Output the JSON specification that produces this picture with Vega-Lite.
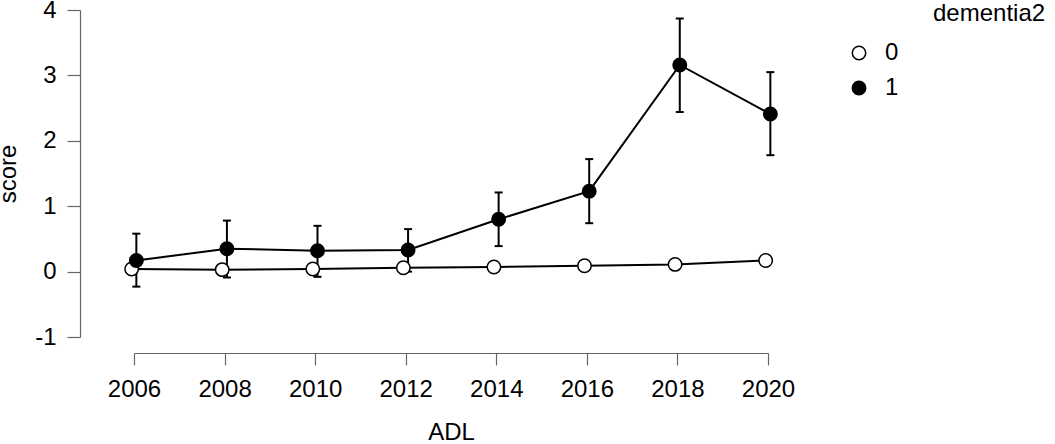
{
  "$schema": "https://vega.github.io/schema/vega-lite/v6.json",
  "autosize": {"type": "none"},
  "padding": {"left": 134, "top": 10, "right": 287, "bottom": 107},
  "width": 634,
  "height": 327,
  "background": "white",
  "data": {
    "values": [
      {"year": 2006, "dementia2": "0", "score": 0.04, "lower": 0.02, "upper": 0.06},
      {"year": 2008, "dementia2": "0", "score": 0.03, "lower": 0.01, "upper": 0.05},
      {"year": 2010, "dementia2": "0", "score": 0.04, "lower": 0.02, "upper": 0.06},
      {"year": 2012, "dementia2": "0", "score": 0.06, "lower": 0.04, "upper": 0.08},
      {"year": 2014, "dementia2": "0", "score": 0.07, "lower": 0.05, "upper": 0.09},
      {"year": 2016, "dementia2": "0", "score": 0.09, "lower": 0.07, "upper": 0.11},
      {"year": 2018, "dementia2": "0", "score": 0.11, "lower": 0.09, "upper": 0.13},
      {"year": 2020, "dementia2": "0", "score": 0.17, "lower": 0.14, "upper": 0.2},
      {"year": 2006, "dementia2": "1", "score": 0.17, "lower": -0.23, "upper": 0.58},
      {"year": 2008, "dementia2": "1", "score": 0.35, "lower": -0.09, "upper": 0.78},
      {"year": 2010, "dementia2": "1", "score": 0.32, "lower": -0.08, "upper": 0.7},
      {"year": 2012, "dementia2": "1", "score": 0.33, "lower": 0.0, "upper": 0.65},
      {"year": 2014, "dementia2": "1", "score": 0.8, "lower": 0.39, "upper": 1.21},
      {"year": 2016, "dementia2": "1", "score": 1.23, "lower": 0.74, "upper": 1.72},
      {"year": 2018, "dementia2": "1", "score": 3.16, "lower": 2.44, "upper": 3.87},
      {"year": 2020, "dementia2": "1", "score": 2.41, "lower": 1.78, "upper": 3.05}
    ]
  },
  "encoding": {
    "x": {
      "field": "year",
      "type": "ordinal",
      "title": "ADL",
      "scale": {"type": "point", "padding": 0},
      "axis": {
        "labelAngle": 0,
        "offset": 16,
        "tickSize": 12,
        "labelPadding": 12,
        "titlePadding": 19
      }
    },
    "xOffset": {
      "field": "dementia2",
      "type": "nominal",
      "scale": {"range": [-4.7, 4.7]}
    }
  },
  "layer": [
    {
      "mark": {"type": "line", "color": "black", "strokeWidth": 2},
      "encoding": {
        "y": {
          "field": "score",
          "type": "quantitative",
          "title": "score",
          "scale": {"domain": [-1, 4], "nice": false, "zero": false},
          "axis": {
            "values": [-1, 0, 1, 2, 3, 4],
            "labelExpr": "toString(datum.value)",
            "offset": 54,
            "tickSize": 13,
            "labelPadding": 11,
            "titlePadding": 14
          }
        },
        "detail": {"field": "dementia2", "type": "nominal"}
      }
    },
    {
      "mark": {"type": "rule", "color": "black", "strokeWidth": 2},
      "encoding": {
        "y": {"field": "lower", "type": "quantitative"},
        "y2": {"field": "upper"}
      }
    },
    {
      "mark": {"type": "tick", "color": "black", "orient": "horizontal", "size": 8, "thickness": 2, "opacity": 1},
      "encoding": {
        "y": {"field": "lower", "type": "quantitative"}
      }
    },
    {
      "mark": {"type": "tick", "color": "black", "orient": "horizontal", "size": 8, "thickness": 2, "opacity": 1},
      "encoding": {
        "y": {"field": "upper", "type": "quantitative"}
      }
    },
    {
      "mark": {"type": "point", "shape": "circle", "filled": true, "size": 180, "stroke": "black", "strokeWidth": 1.5, "opacity": 1},
      "encoding": {
        "y": {"field": "score", "type": "quantitative"},
        "fill": {
          "field": "dementia2",
          "type": "nominal",
          "scale": {"domain": ["0", "1"], "range": ["white", "black"]},
          "legend": {
            "title": "dementia2",
            "orient": "none",
            "legendX": 713,
            "legendY": 31,
            "padding": 0,
            "symbolType": "circle",
            "symbolSize": 180,
            "symbolStrokeColor": "black",
            "symbolStrokeWidth": 1.5,
            "labelOffset": 14,
            "rowPadding": 11,
            "titleOrient": "right",
            "titleAngle": 0,
            "titleAnchor": "start",
            "titleBaseline": "line-bottom",
            "titleLineHeight": 54,
            "titlePadding": 35
          }
        }
      }
    }
  ],
  "config": {
    "font": "Liberation Sans",
    "view": {"stroke": null},
    "axis": {
      "grid": false,
      "domainColor": "#666666",
      "tickColor": "#666666",
      "domainWidth": 1.2,
      "tickWidth": 1.2,
      "labelColor": "black",
      "labelFontSize": 24,
      "titleFontSize": 24,
      "titleFontWeight": "normal",
      "titleColor": "black"
    },
    "legend": {
      "labelFontSize": 24,
      "labelColor": "black",
      "titleFontSize": 24,
      "titleFontWeight": "normal",
      "titleColor": "black"
    }
  }
}
